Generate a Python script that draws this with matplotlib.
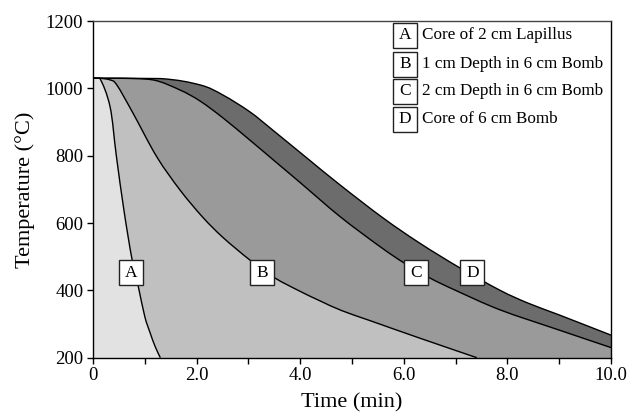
import matplotlib
matplotlib.use("Agg")
import matplotlib.pyplot as plt
from matplotlib.patches import Rectangle, PathPatch
from matplotlib.path import Path

plt.rcParams['font.family'] = ['Liberation Serif', 'DejaVu Serif']

# Data
A_t = [0, 0.13, 0.33, 0.45, 0.60, 0.75, 0.875, 1.00, 1.10, 1.20, 1.30]
A_T = [1030, 1030, 945, 800, 635, 495, 411, 322, 275, 233, 200]

B_t = [0, 0.13, 0.33, 0.46, 0.77, 1.23, 1.68, 2.12, 2.51, 3.03, 3.51, 4.00, 4.38, 4.80, 5.35, 6.31, 7.41]
B_T = [1030, 1030, 1025, 1010, 927, 797, 698, 617, 557, 490, 437, 397, 369, 340, 310, 258, 200]

C_t = [0, 0.50, 1.16, 1.68, 2.07, 2.51, 3.03, 3.50, 4.00, 4.77, 5.54, 6.00, 6.50, 7.00, 7.86, 9.00, 10.0]
C_T = [1030, 1030, 1025, 995, 962, 912, 846, 785, 720, 619, 530, 482, 437, 400, 342, 282, 230]

D_t = [0, 1.30, 2.07, 2.51, 3.03, 3.47, 4.13, 4.77, 5.60, 6.31, 7.08, 7.86, 8.40, 9.00, 10.0]
D_T = [1030, 1029, 1010, 980, 930, 876, 793, 713, 615, 540, 467, 400, 362, 327, 267]

series_labels = ['A', 'B', 'C', 'D']
legend_texts = ['Core of 2 cm Lapillus', '1 cm Depth in 6 cm Bomb',
                '2 cm Depth in 6 cm Bomb', 'Core of 6 cm Bomb']
label_t = [0.734, 3.27, 6.245, 7.326]
label_T = [453, 453, 453, 453]

fill_colors = ['#e2e2e2', '#c0c0c0', '#9a9a9a', '#6c6c6c']

x_ticks = [0, 1, 2, 3, 4, 5, 6, 7, 8, 9, 10]
x_ticklabels = ['0', '', '2.0', '', '4.0', '', '6.0', '', '8.0', '', '10.0']
y_ticks = [200, 400, 600, 800, 1000, 1200]


def smooth_path_vertices(t, T, cap=1030):
    """Smoothed (Catmull-Rom style) line through the points as cubic Bezier segments."""
    pts = list(zip(t, T))
    n = len(pts)
    verts = [pts[0]]
    codes = [Path.MOVETO]
    for i in range(n - 1):
        p0 = pts[i - 1] if i > 0 else pts[i]
        p1 = pts[i]
        p2 = pts[i + 1]
        p3 = pts[i + 2] if i + 2 < n else pts[i + 1]
        c1 = (p1[0] + (p2[0] - p0[0]) / 6, min(cap, p1[1] + (p2[1] - p0[1]) / 6))
        c2 = (p2[0] - (p3[0] - p1[0]) / 6, min(cap, p2[1] - (p3[1] - p1[1]) / 6))
        verts += [c1, c2, p2]
        codes += [Path.CURVE4] * 3
    return verts, codes


fig = plt.figure(figsize=(6.32, 4.18), dpi=100)
ax = fig.add_axes([93/632, 1-357.7/418, (611-93)/632, (357.7-21)/418])

curves = [(A_t, A_T), (B_t, B_T), (C_t, C_T), (D_t, D_T)]
for i in [3, 2, 1, 0]:
    t, T = curves[i]
    v, c = smooth_path_vertices(t, T)
    fv = v + [(t[-1], 100), (t[0], 100), v[0]]
    fc = c + [Path.LINETO, Path.LINETO, Path.CLOSEPOLY]
    ax.add_patch(PathPatch(Path(fv, fc), facecolor=fill_colors[i], lw=0,
                           zorder=1 + (3 - i)))
for i in range(4):
    t, T = curves[i]
    v, c = smooth_path_vertices(t, T)
    ax.add_patch(PathPatch(Path(v, c), facecolor='none', edgecolor='black',
                           lw=1.0, zorder=6))

ax.set_xlim(0, 10)
ax.set_ylim(200, 1200)
ax.set_xticks(x_ticks)
ax.set_xticklabels(x_ticklabels)
ax.set_yticks(y_ticks)
ax.tick_params(axis='both', direction='out', length=4, width=1, labelsize=13.5,
               colors='black', pad=3)
for s in ax.spines.values():
    s.set_linewidth(1.0)
    s.set_color('black')
    s.set_zorder(10)
ax.spines['top'].set_color('#444444')

ax.set_xlabel('Time (min)', fontsize=16, labelpad=6)
ax.set_ylabel('Temperature (\u00b0C)', fontsize=16, labelpad=8)

bw = 24 / 51.8
bh = 25 / 0.3367


def box(xc, yc, letter):
    ax.add_patch(Rectangle((xc - bw/2, yc - bh/2), bw, bh, facecolor='white',
                           edgecolor='#222222', lw=1.0, zorder=8, clip_on=False))
    ax.text(xc, yc, letter, ha='center', va='center', fontsize=12.5, zorder=9)


for i in range(4):
    box(label_t[i], label_T[i], series_labels[i])

leg_xc = 6.02
leg_y = [1157, 1072, 991, 908]
for i in range(4):
    box(leg_xc, leg_y[i], series_labels[i])
    ax.text(6.35, leg_y[i], legend_texts[i], ha='left', va='center', fontsize=12.3, zorder=9)

fig.savefig('out.png', dpi=100)
